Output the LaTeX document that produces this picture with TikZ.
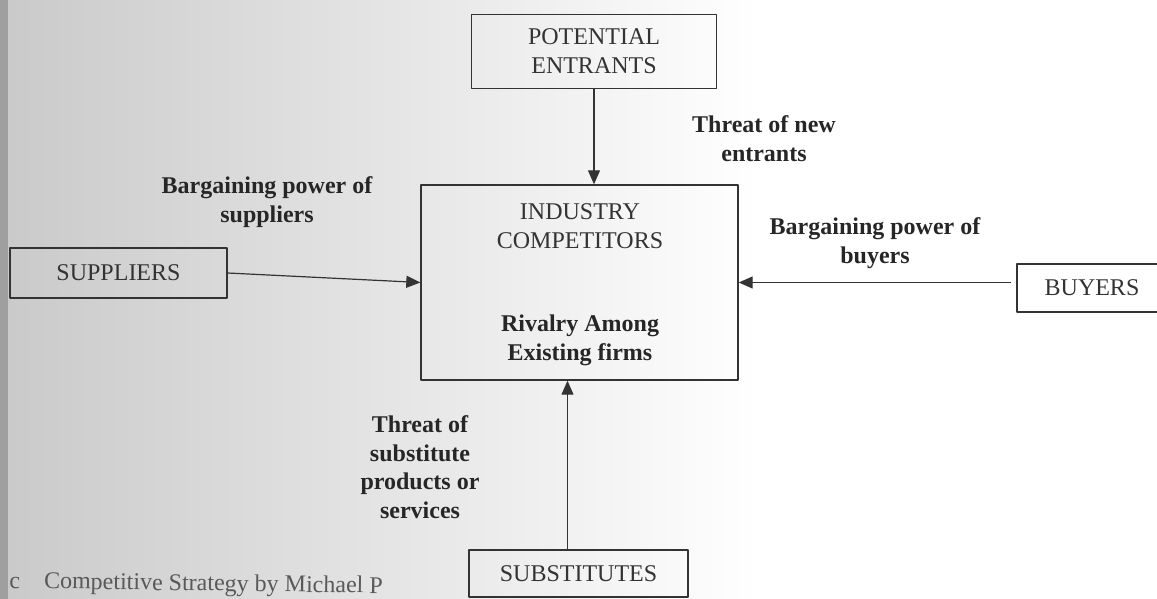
\documentclass[tikz,border=0pt]{standalone}
\usepackage{fontspec}
\setmainfont{Liberation Serif}
\usetikzlibrary{arrows.meta}
\tikzset{
	forcebox/.style={draw=black!80, line width=0.7pt, align=center, inner sep=0pt, text=black!80},
	forcelabel/.style={font=\fontsize{12}{14.5}\selectfont\bfseries, align=center, text=black!85},
}
\begin{document}
\begin{tikzpicture}[x=0.5pt, y=-0.5pt, >={Triangle[length=7pt,width=6pt]}, font=\fontsize{12}{14.5}\selectfont, line join=round]
	\useasboundingbox (0,0) rectangle (1157,599);
	% scanned page
	\shade[left color=gray!42, right color=white] (0,0) rectangle (760,599);
	\fill[gray!75] (0,0) rectangle (8,599);
	% the five forces
	\node[forcebox, minimum width=122.5pt, minimum height=37pt] (pot) at (594,51.5) {POTENTIAL\\ENTRANTS};
	\node[forcebox, minimum width=158.5pt, minimum height=97.5pt] (ind) at (579.5,282.5) {};
	\node[forcebox, minimum width=108.5pt, minimum height=25pt] (sup) at (118.5,273) {SUPPLIERS};
	\node[forcebox, minimum width=75pt, minimum height=24pt] (buy) at (1092,288) {BUYERS};
	\node[forcebox, minimum width=109.5pt, minimum height=23.5pt] (sub) at (578.5,573.5) {SUBSTITUTES};
	\node[align=center, text=black!80] (indname) at (580,226.5) {INDUSTRY\\COMPETITORS};
	\node[forcelabel] (rival) at (580,340) {Rivalry Among\\Existing firms};
	% arrows
	\draw[->, line width=0.6pt, black!80] (pot.south) -- (pot.south |- ind.north);
	\draw[->, line width=0.6pt, black!80] (sup.east) -- (ind.west);
	\draw[->, line width=0.6pt, black!80, shorten <=2.5pt] (buy.west |- ind.east) -- (ind.east);
	\draw[->, line width=0.6pt, black!80] ([xshift=-5.5pt]sub.north) -- ([xshift=-5.5pt]sub.north |- ind.south);
	% labels
	\node[forcelabel] (entl) at (764,139) {Threat of new\\entrants};
	\node[forcelabel] (supl) at (267,202) {Bargaining power of\\suppliers};
	\node[forcelabel] (buyl) at (875,243) {Bargaining power of\\buyers};
	\node[forcelabel, font=\fontsize{12}{14.3}\selectfont\bfseries] (subl) at (420,467) {Threat of\\substitute\\products or\\services};
	\node[anchor=base west, rotate=-0.8, text=black!65, inner sep=0pt] (src) at (9,588) {c\hspace{1em}Competitive Strategy by Michael P};
\end{tikzpicture}
\end{document}
